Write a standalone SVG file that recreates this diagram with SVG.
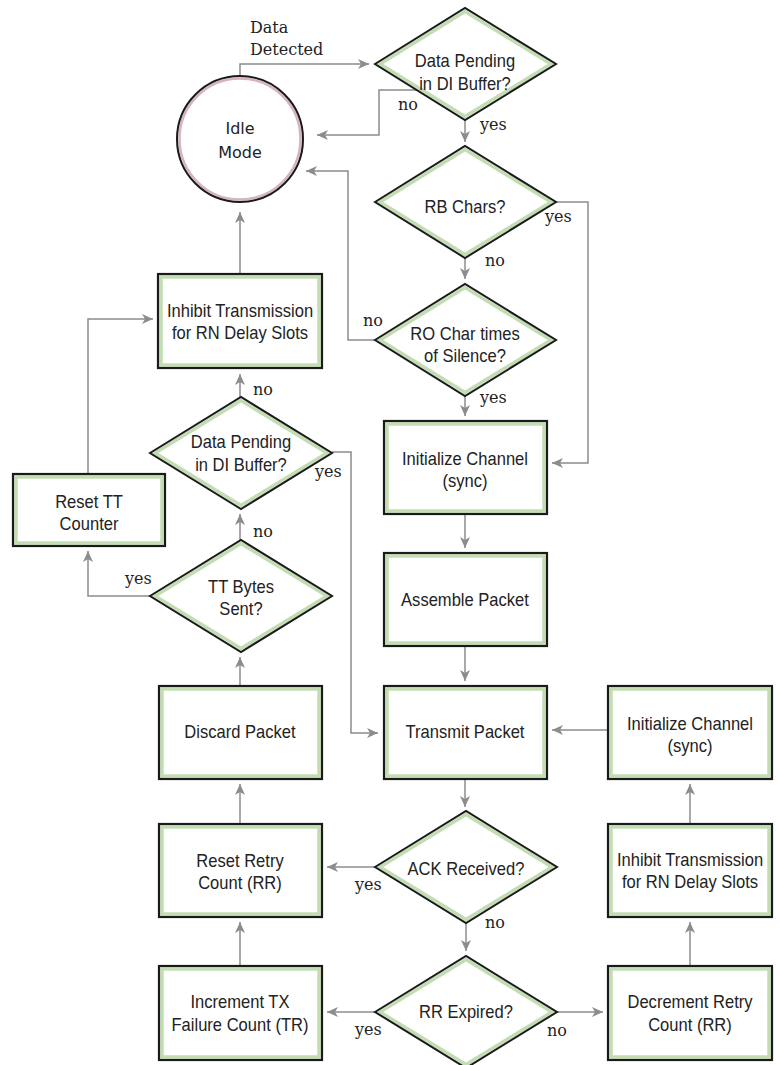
<svg xmlns="http://www.w3.org/2000/svg" width="780" height="1065" viewBox="0 0 780 1065">
<style>
.bo{fill:none;stroke:#1a1a1a;stroke-width:2.2}
.bi{fill:#fff;stroke:#c3ddb3;stroke-width:3.5}
.dg{fill:#fff;stroke:#c3ddb3;stroke-width:3.5}
.dk{fill:none;stroke:#1a1a1a;stroke-width:2}
.t{font-family:"Liberation Sans",Arial,sans-serif;font-size:18px;fill:#222;text-anchor:middle;transform-box:fill-box;transform-origin:center;transform:scaleX(0.92)}
.l{font-family:"DejaVu Serif","Liberation Serif",serif;font-size:16px;fill:#222}
.c{fill:none;stroke:#8c8c8c;stroke-width:1.5;marker-end:url(#ah)}
</style>
<defs>
<marker id="ah" markerUnits="userSpaceOnUse" markerWidth="12" markerHeight="10" refX="11" refY="5" orient="auto">
<path d="M0,0 L11,5 L0,10 L3,5 z" fill="#8c8c8c"/>
</marker>
</defs>
<rect width="780" height="1065" fill="#fff"/>

<g id="connectors">
<polyline class="c" points="240,76 240,64 369,64"/>
<polyline class="c" points="417,90 379,90 379,135 317,135"/>
<polyline class="c" points="465,120 465,142"/>
<polyline class="c" points="556,202 588,202 588,463 552,463"/>
<polyline class="c" points="465,258 465,279"/>
<polyline class="c" points="375,340 348,340 348,171 306,171"/>
<polyline class="c" points="465,396 465,416"/>
<polyline class="c" points="465,514 465,548"/>
<polyline class="c" points="465,646 465,681"/>
<polyline class="c" points="465,779 465,807"/>
<polyline class="c" points="375,867 327,867"/>
<polyline class="c" points="466,923 466,951"/>
<polyline class="c" points="375,1012 327,1012"/>
<polyline class="c" points="557,1012 603,1012"/>
<polyline class="c" points="690,966 690,922"/>
<polyline class="c" points="690,824 690,784"/>
<polyline class="c" points="608,730 552,730"/>
<polyline class="c" points="240,966 240,922"/>
<polyline class="c" points="240,824 240,784"/>
<polyline class="c" points="240,686 240,657"/>
<polyline class="c" points="240,540 240,514"/>
<polyline class="c" points="150,596 88,596 88,551"/>
<polyline class="c" points="88,474 88,319 153,319"/>
<polyline class="c" points="240,397 240,374"/>
<polyline class="c" points="332,452 351,452 351,733 378,733"/>
<polyline class="c" points="240,274 240,212"/>
</g>

<g id="labels">
<text class="l" x="250" y="33">Data</text>
<text class="l" x="250" y="55">Detected</text>
<text class="l" x="398" y="110">no</text>
<text class="l" x="480" y="130">yes</text>
<text class="l" x="545" y="222">yes</text>
<text class="l" x="485" y="266">no</text>
<text class="l" x="363" y="326">no</text>
<text class="l" x="480" y="403">yes</text>
<text class="l" x="253" y="395">no</text>
<text class="l" x="315" y="477">yes</text>
<text class="l" x="253" y="537">no</text>
<text class="l" x="125" y="584">yes</text>
<text class="l" x="355" y="890">yes</text>
<text class="l" x="485" y="928">no</text>
<text class="l" x="355" y="1035">yes</text>
<text class="l" x="547" y="1036">no</text>
</g>

<g id="idle">
<circle cx="240" cy="139" r="60.5" fill="#fff" stroke="#d6b3bf" stroke-width="2.5"/>
<circle cx="240" cy="139" r="63" fill="none" stroke="#1a1a1a" stroke-width="2"/>
<text x="240" y="134" style="font-family:'DejaVu Sans',Verdana,sans-serif;font-size:16px;fill:#222;text-anchor:middle">Idle</text>
<text x="240" y="158" style="font-family:'DejaVu Sans',Verdana,sans-serif;font-size:16px;fill:#222;text-anchor:middle">Mode</text>
</g>

<g id="d-pending1">
<polygon class="dg" points="380,64 465,11.5 551,64 465,116.5"/>
<polygon class="dk" points="375,64 465,8 556,64 465,120"/>
<text class="t" x="465" y="67">Data Pending</text>
<text class="t" x="465" y="90">in DI Buffer?</text>
</g>

<g id="d-rb">
<polygon class="dg" points="380,202 465,149.5 551,202 465,254.5"/>
<polygon class="dk" points="375,202 465,146 556,202 465,258"/>
<text class="t" x="465" y="213">RB Chars?</text>
</g>

<g id="d-ro">
<polygon class="dg" points="380,340 465,287.5 551,340 465,392.5"/>
<polygon class="dk" points="375,340 465,284 556,340 465,396"/>
<text class="t" x="465" y="340">RO Char times</text>
<text class="t" x="465" y="362">of Silence?</text>
</g>

<g id="d-pending2">
<polygon class="dg" points="155,453 241,400.5 327,453 241,505.5"/>
<polygon class="dk" points="150,453 241,397 332,453 241,509"/>
<text class="t" x="241" y="448">Data Pending</text>
<text class="t" x="241" y="471">in DI Buffer?</text>
</g>

<g id="d-tt">
<polygon class="dg" points="155,596 241,543.5 327,596 241,648.5"/>
<polygon class="dk" points="150,596 241,540 332,596 241,652"/>
<text class="t" x="241" y="593">TT Bytes</text>
<text class="t" x="241" y="615">Sent?</text>
</g>

<g id="d-ack">
<polygon class="dg" points="380,867 466,814.5 552,867 466,919.5"/>
<polygon class="dk" points="375,867 466,811 557,867 466,923"/>
<text class="t" x="466" y="875">ACK Received?</text>
</g>

<g id="d-rr">
<polygon class="dg" points="380,1012 466,959.5 552,1012 466,1064.5"/>
<polygon class="dk" points="375,1012 466,956 557,1012 466,1068"/>
<text class="t" x="466" y="1018">RR Expired?</text>
</g>

<g id="b-inhibit1">
<rect class="bi" x="161" y="277" width="158" height="88"/>
<rect class="bo" x="158" y="274" width="164" height="94"/>
<text class="t" x="240" y="317">Inhibit Transmission</text>
<text class="t" x="240" y="339">for RN Delay Slots</text>
</g>

<g id="b-resettt">
<rect class="bi" x="16" y="477" width="146" height="66"/>
<rect class="bo" x="13" y="474" width="152" height="72"/>
<text class="t" x="89" y="508">Reset TT</text>
<text class="t" x="89" y="530">Counter</text>
</g>

<g id="b-init1">
<rect class="bi" x="387" y="424" width="157" height="87"/>
<rect class="bo" x="384" y="421" width="163" height="93"/>
<text class="t" x="465" y="465">Initialize Channel</text>
<text class="t" x="465" y="487">(sync)</text>
</g>

<g id="b-assemble">
<rect class="bi" x="387" y="556" width="157" height="87"/>
<rect class="bo" x="384" y="553" width="163" height="93"/>
<text class="t" x="465" y="606">Assemble Packet</text>
</g>

<g id="b-transmit">
<rect class="bi" x="387" y="689" width="157" height="87"/>
<rect class="bo" x="384" y="686" width="163" height="93"/>
<text class="t" x="465" y="738">Transmit Packet</text>
</g>

<g id="b-init2">
<rect class="bi" x="611" y="689" width="158" height="87"/>
<rect class="bo" x="608" y="686" width="164" height="93"/>
<text class="t" x="690" y="730">Initialize Channel</text>
<text class="t" x="690" y="752">(sync)</text>
</g>

<g id="b-discard">
<rect class="bi" x="162" y="689" width="157" height="87"/>
<rect class="bo" x="159" y="686" width="163" height="93"/>
<text class="t" x="240" y="738">Discard Packet</text>
</g>

<g id="b-resetretry">
<rect class="bi" x="162" y="827" width="157" height="87"/>
<rect class="bo" x="159" y="824" width="163" height="93"/>
<text class="t" x="240" y="867">Reset Retry</text>
<text class="t" x="240" y="889">Count (RR)</text>
</g>

<g id="b-inhibit2">
<rect class="bi" x="611" y="827" width="158" height="87"/>
<rect class="bo" x="608" y="824" width="164" height="93"/>
<text class="t" x="690" y="866">Inhibit Transmission</text>
<text class="t" x="690" y="888">for RN Delay Slots</text>
</g>

<g id="b-increment">
<rect class="bi" x="162" y="969" width="157" height="88"/>
<rect class="bo" x="159" y="966" width="163" height="94"/>
<text class="t" x="240" y="1008">Increment TX</text>
<text class="t" x="240" y="1031">Failure Count (TR)</text>
</g>

<g id="b-decrement">
<rect class="bi" x="611" y="969" width="158" height="88"/>
<rect class="bo" x="608" y="966" width="164" height="94"/>
<text class="t" x="690" y="1008">Decrement Retry</text>
<text class="t" x="690" y="1031">Count (RR)</text>
</g>
</svg>
